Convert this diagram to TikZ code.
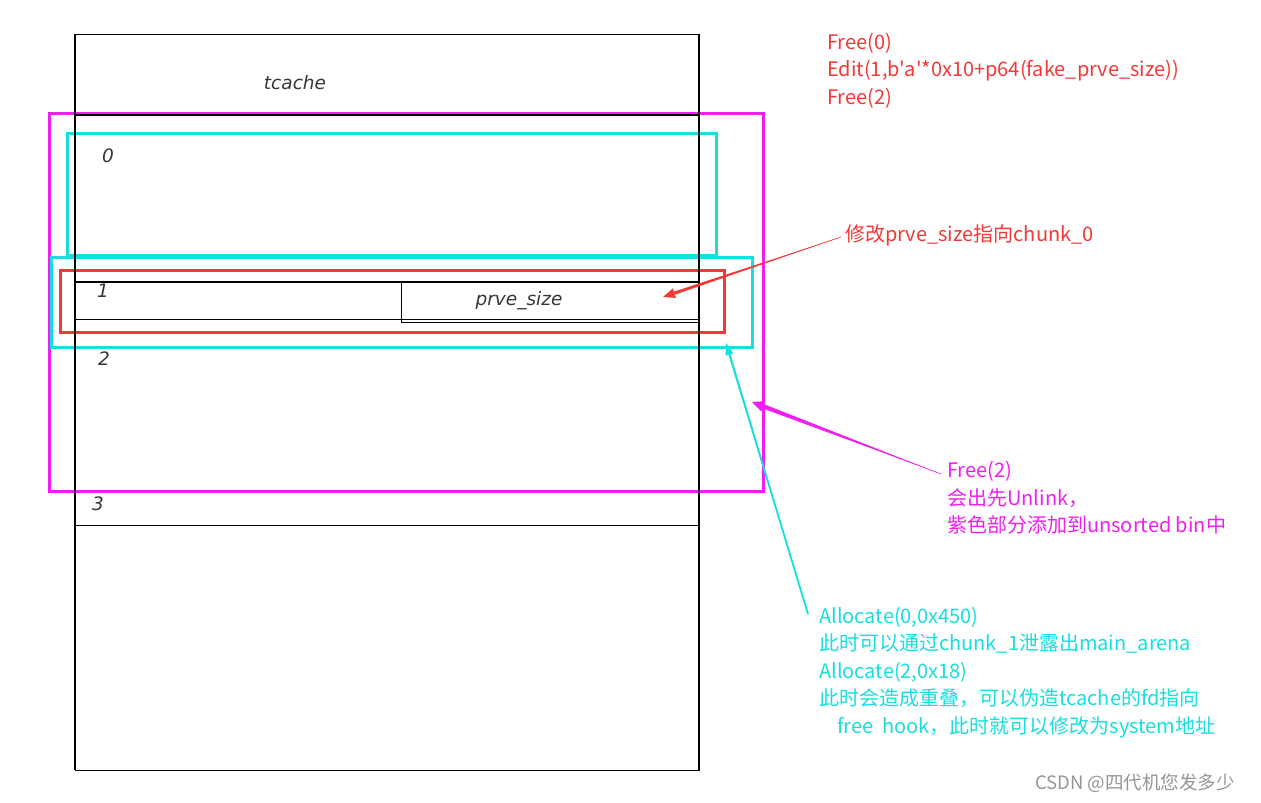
\documentclass[tikz,border=0pt]{standalone}
\usepackage{fontspec}
\newfontfamily\cjk{Noto Sans CJK SC}
\newfontfamily\hand{DejaVu Sans}
\usetikzlibrary{calc}
\definecolor{cred}{RGB}{243,56,56}
\definecolor{cmag}{RGB}{240,30,240}
\definecolor{ccyan}{RGB}{24,222,222}
\definecolor{wgray}{RGB}{150,150,150}
\definecolor{hgray}{RGB}{55,55,55}
\newcommand\taperarrow[5]{% colour, start, tip, shaft half width, head half width
  \coordinate (tmpb) at ($(#3)!12pt!(#2)$);
  \fill[#1] (#2) -- ($(tmpb)!#4!90:(#2)$) -- ($(tmpb)!#4!-90:(#2)$) -- cycle;
  \fill[#1] (#3) -- ($(tmpb)!#5!90:(#2)$) -- ($(tmpb)!#5!-90:(#2)$) -- cycle;
  \draw[#1, line width=0.6pt] (#2) -- (tmpb);
}
\begin{document}
\begin{tikzpicture}[x=1pt,y=-1pt,
  txt/.style={anchor=base west, inner sep=0pt, font=\cjk\fontsize{20}{24}\selectfont},
  hw/.style={inner sep=0pt, text=hgray, font=\hand\itshape\fontsize{18.5}{20}\selectfont},
  cbox/.style={line width=3pt},
  thinline/.style={line width=1pt, black},
  thickline/.style={line width=2pt, black}]
\useasboundingbox[fill=white] (0,0) rectangle (1261,803);

% coloured boxes
\draw[cbox, cmag] (49,113) rectangle (763,491);
\draw[cbox, ccyan] (67,133) rectangle (716,255);
\draw[cbox, ccyan] (51,257) rectangle (752,347);
\draw[cbox, cred] (60,270) rectangle (724,332);

% memory layout
\draw[thinline] (75,34) -- (700,34);
\draw[thickline] (75,33.5) -- (75,770);
\draw[thickline] (699,33.5) -- (699,770);
\draw[thinline] (75,770) -- (700,770);
\draw[line width=1.3pt] (75,115) -- (700,115);
\draw[thickline] (75,282) -- (700,282);
\draw[thinline] (75,319.5) -- (699,319.5);
\draw[thinline] (401,282) -- (401,322) -- (699,322);
\draw[line width=1.5pt] (75,525.5) -- (700,525.5);

% handwritten labels
\node[hw] (tc) at (295,83) {tcache};
\node[hw] (c0) at (108,156) {0};
\node[hw] (c1) at (103,291) {1};
\node[hw] (ps) at (519,301) {prve\_size};
\node[hw] (c2) at (104,359) {2};
\node[hw] (c3) at (98,504) {3};

% red text
\node[txt, text=cred] (r1) at (827,49) {Free(0)};
\node[txt, text=cred] (r2) at (827,76.5) {Edit(1,b'a'*0x10+p64(fake\_prve\_size))};
\node[txt, text=cred] (r3) at (827,104) {Free(2)};
\node[txt, text=cred] (rl) at (845,241) {修改prve\_size指向chunk\_0};

% magenta text
\node[txt, text=cmag] (m1) at (947,477.5) {Free(2)};
\node[txt, text=cmag] (m2) at (947,505) {会出先Unlink，};
\node[txt, text=cmag] (m3) at (947,532.5) {紫色部分添加到unsorted bin中};

% cyan text
\node[txt, text=ccyan] (a1) at (819,623) {Allocate(0,0x450)};
\node[txt, text=ccyan] (a2) at (819,650.5) {此时可以通过chunk\_1泄露出main\_arena};
\node[txt, text=ccyan] (a3) at (819,678) {Allocate(2,0x18)};
\node[txt, text=ccyan] (a4) at (819,705.5) {此时会造成重叠，可以伪造tcache的fd指向};
\node[txt, text=ccyan] (a5) at (837,733) {free\ \ hook，此时就可以修改为system地址};

% watermark
\node[txt, text=wgray, font=\cjk\fontsize{18.5}{22}\selectfont] (wm) at (1035,789) {CSDN @四代机您发多少};

% arrows
\coordinate (rs) at (841,237);
\coordinate (rt) at (663,297);
\coordinate (ms) at (941,474);
\coordinate (mt) at (752,402);
\coordinate (cs) at (808,614);
\coordinate (ct) at (726,343);
\taperarrow{cred}{rs}{rt}{1.6pt}{5pt}
\taperarrow{cmag}{ms}{mt}{2.2pt}{5.5pt}
\draw[ccyan, line width=1.8pt] (cs) -- ($(ct)!8pt!(cs)$);
\taperarrow{ccyan}{cs}{ct}{1pt}{4pt}
\end{tikzpicture}
\end{document}
